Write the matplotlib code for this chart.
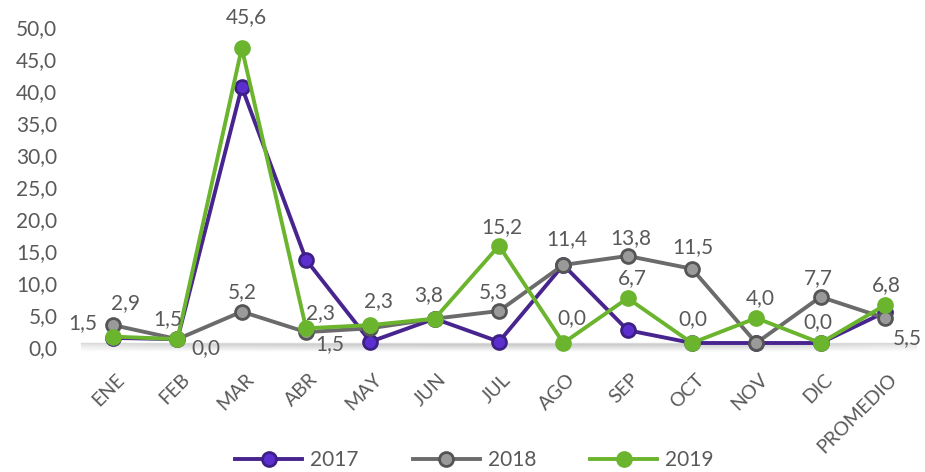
import matplotlib
matplotlib.use("Agg")
import matplotlib.pyplot as plt
import matplotlib.transforms as mtransforms
import numpy as np

categories = ["ENE", "FEB", "MAR", "ABR", "MAY", "JUN", "JUL", "AGO", "SEP", "OCT", "NOV", "DIC", "PROMEDIO"]
v2017 = [0.8, 0.6, 40.0, 13.0, 0.2, 3.8, 0.2, 12.2, 2.0, 0.0, 0.0, 0.0, 4.8]
v2018 = [2.8, 0.6, 4.9, 1.7, 2.3, 3.8, 5.0, 12.2, 13.6, 11.6, 0.0, 7.2, 3.9]
v2019 = [1.0, 0.6, 46.1, 2.3, 2.8, 3.8, 15.2, 0.0, 7.0, 0.0, 3.9, 0.0, 5.9]
series_names = ["2017", "2018", "2019"]
y_ticks = [0, 5, 10, 15, 20, 25, 30, 35, 40, 45, 50]

# data labels: (text, series, category index)
label_texts = ["1,5", "2,9", "1,5", "0,0", "45,6", "5,2", "2,3", "1,5", "2,3", "3,8", "5,3",
               "15,2", "11,4", "0,0", "13,8", "6,7", "11,5", "0,0", "4,0", "7,7", "0,0", "6,8", "5,5"]
label_series = [0, 1, 1, 1, 2, 1, 2, 1, 2, 2, 1, 2, 1, 2, 1, 2, 1, 2, 2, 1, 2, 2, 1]
label_index = [0, 0, 1, 1, 2, 2, 3, 3, 4, 5, 6, 6, 7, 7, 8, 8, 9, 9, 10, 11, 11, 12, 12]
# pixel offsets of labels (style)
label_offsets = [(-30, 15), (12, 22), (-10, 20), (28, -9), (5, 31), (1, 20), (14, 15), (24, -12),
                 (8, 24), (-6, 24), (-6, 19), (3, 19), (4, 26), (9, 25), (3, 18), (5, 20),
                 (1, 22), (1, 24), (4, 20), (-2, 19), (-3, 21), (1, 20), (22, -20)]

FONT = "Lato"
TXT = "#595959"
line_colors = ["#48248f", "#6b6b6b", "#6bb42d"]
face_colors = ["#5b2fcf", "#9a9a9a", "#6bb42d"]
edge_colors = ["#3d1f86", "#555555", "#6bb42d"]

fig = plt.figure(figsize=(9.25, 4.72), dpi=100)
ax = fig.add_axes([81/925, 1 - 343/472, (917-81)/925, (343-23)/472])

x = np.arange(len(categories))
all_vals = [v2017, v2018, v2019]
for k, vals in enumerate(all_vals):
    ax.plot(x, vals, color=line_colors[k], lw=2.8, marker="o", markersize=10,
            markerfacecolor=face_colors[k], markeredgecolor=edge_colors[k], markeredgewidth=2,
            clip_on=False, zorder=3 + k, label=series_names[k])

for t, s, i, (dx, dy) in zip(label_texts, label_series, label_index, label_offsets):
    ax.annotate(t, xy=(i, all_vals[s][i]), xytext=(dx, dy), textcoords="offset pixels",
                ha="center", va="center", fontsize=15, color=TXT, family=FONT, zorder=10,
                annotation_clip=False)

ax.set_xlim(-0.5, len(categories) - 0.5)
ax.set_ylim(0, 50)
ax.set_yticks(y_ticks)
ax.set_yticklabels([f"{v:.1f}".replace(".", ",") for v in y_ticks], fontsize=15, color=TXT, family=FONT)
ax.set_xticks(x)
ax.set_xticklabels(categories, rotation=45, ha="right", va="top", rotation_mode="anchor",
                   fontsize=14, color=TXT, family=FONT)
ax.tick_params(axis="both", length=0)
ax.tick_params(axis="y", pad=17)
ax.tick_params(axis="x", pad=20)
shift = mtransforms.ScaledTranslation(0, -4/100, fig.dpi_scale_trans)
for lab in ax.get_yticklabels():
    lab.set_transform(lab.get_transform() + shift)
shiftx = mtransforms.ScaledTranslation(3/100, 0, fig.dpi_scale_trans)
for lab in ax.get_xticklabels():
    lab.set_transform(lab.get_transform() + shiftx)

for sp in ["left", "right", "top"]:
    ax.spines[sp].set_visible(False)
ax.spines["bottom"].set_color("#d9d9d9")
ax.spines["bottom"].set_linewidth(1)

# soft shadow below axis
grad = np.linspace(0.55, 0, 32).reshape(-1, 1)
grad = np.repeat(grad, 200, axis=1)
hfade = np.sin(np.linspace(0.15, np.pi - 0.15, 200)) ** 0.4
img = np.zeros((32, 200, 4))
img[..., :3] = 0.55
img[..., 3] = grad * hfade
ax.imshow(img, extent=(-0.5, len(categories) - 0.5, -1.4, 0), aspect="auto", clip_on=False,
          zorder=1, interpolation="bilinear")
ax.set_ylim(0, 50)
ax.set_xlim(-0.5, len(categories) - 0.5)

leg = fig.legend(loc="lower center", bbox_to_anchor=(0.513, -0.036), ncol=3, frameon=False,
                 prop={"family": FONT, "size": 15}, handlelength=3.2, columnspacing=2.6,
                 handletextpad=0.4)
for t in leg.get_texts():
    t.set_color(TXT)

fig.savefig("out.png", dpi=100)
